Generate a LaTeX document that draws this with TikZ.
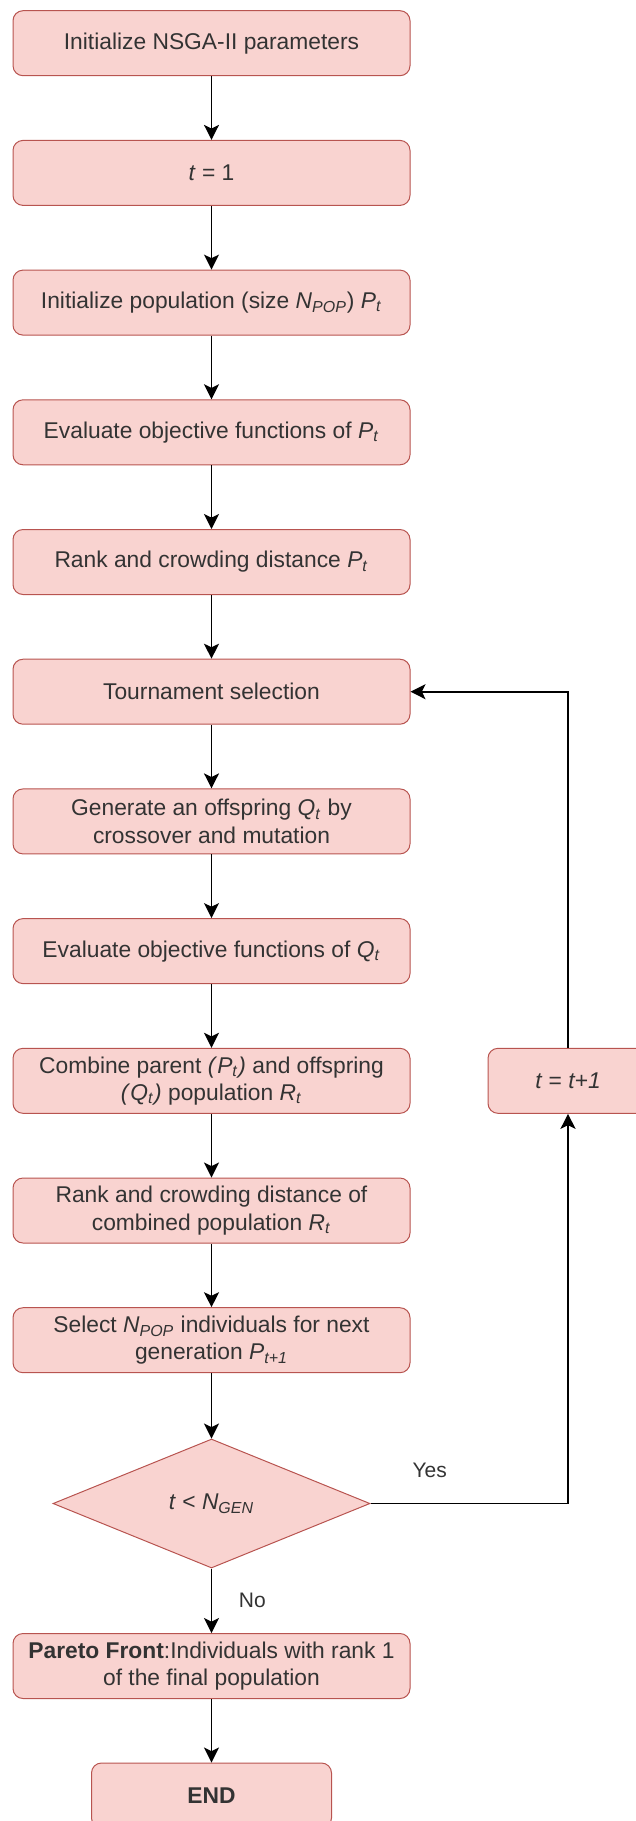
\documentclass[tikz,border=0pt]{standalone}
\usepackage{fontspec}
\setmainfont{Liberation Sans}
\usepackage{xcolor}
\usepackage{tikz}
\usetikzlibrary{positioning,shapes.geometric,arrows.meta}
\definecolor{boxFill}{HTML}{F9D3D0}
\definecolor{boxLine}{HTML}{B85450}
\definecolor{txtGray}{HTML}{333333}
\newdimen\nodeDist
\nodeDist=64.85pt
\newcommand{\vr}[2]{\textit{#1}\textsubscript{\textit{#2}}}

\begin{document}
\begin{tikzpicture}[
    block/.style={%
      draw=boxLine,
      fill=boxFill,
      rectangle,
      rounded corners=5pt,
      line width=0.5pt,
      minimum width=198.5pt,
      minimum height=32.5pt,
      inner sep=1pt,
      align=center,
      text=txtGray,
      font=\fontsize{11.4}{13.6}\selectfont,
    },
    decision/.style={%
      draw=boxLine,
      fill=boxFill,
      diamond,
      line width=0.5pt,
      minimum width=158.5pt,
      minimum height=64.5pt,
      inner sep=0pt,
      text=txtGray,
      font=\fontsize{11.4}{13.6}\selectfont,
    },
    line/.style={%
      draw,
      line width=0.8pt,
      -{Stealth[length=7.5pt,width=7.5pt,inset=1.8pt]},
    },
    lbl/.style={%
      text=txtGray,
      font=\fontsize{10.5}{12}\selectfont,
    },
  ]

    \useasboundingbox (0,0) rectangle (318pt,-910.5pt);

    \node [block] (A) at (105.75pt,-21.6pt) {Initialize NSGA-II parameters};
    \path (A) ++(-90:\nodeDist) node [block] (B) {\textit{t} = 1};
    \path (B) ++(-90:\nodeDist) node [block] (C) {Initialize population (size \vr{N}{POP}) \vr{P}{t}};
    \path (C) ++(-90:\nodeDist) node [block] (D) {Evaluate objective functions of \vr{P}{t}};
    \path (D) ++(-90:\nodeDist) node [block] (E) {Rank and crowding distance \vr{P}{t}};
    \path (E) ++(-90:\nodeDist) node [block] (F) {Tournament selection};
    \path (F) ++(-90:\nodeDist) node [block] (G) {Generate an offspring \vr{Q}{t} by\\crossover and mutation};
    \path (G) ++(-90:\nodeDist) node [block] (H) {Evaluate objective functions of \vr{Q}{t}};
    \path (H) ++(-90:\nodeDist) node [block] (I) {Combine parent \textit{(}\vr{P}{t}\textit{)} and offspring\\\textit{(}\vr{Q}{t}\textit{)} population \vr{R}{t}};
    \path (I) ++(-90:\nodeDist) node [block] (J) {Rank and crowding distance of\\combined population \vr{R}{t}};
    \path (J) ++(-90:\nodeDist) node [block] (K) {Select \vr{N}{POP} individuals for next\\generation \vr{P}{t+1}};
    \path (K) ++(-90:81.65pt) node [decision] (L) {\textit{t} < \vr{N}{GEN}};
    \path (L) ++(-90:81.25pt) node [block] (M) {\textbf{Pareto Front}:Individuals with rank 1\\of the final population};
    \path (M) ++(-90:64.75pt) node [block, minimum width=120pt] (N) {\textbf{END}};
    \path (I) ++(0:178.25pt) node [block, minimum width=80pt] (O) {\textit{t} = \textit{t+1}};

    \draw [line] (A) -- (B);
    \draw [line] (B) -- (C);
    \draw [line] (C) -- (D);
    \draw [line] (D) -- (E);
    \draw [line] (E) -- (F);
    \draw [line] (F) -- (G);
    \draw [line] (G) -- (H);
    \draw [line] (H) -- (I);
    \draw [line] (I) -- (J);
    \draw [line] (J) -- (K);
    \draw [line] (K) -- (L);
    \draw [line] (L) -- (M) node [lbl, right=10pt, pos=0.5] {No};
    \draw [line] (M) -- (N);
    \draw [line] (L.east) -| node [lbl, above=9pt, pos=0.15] {Yes} (O.south);
    \draw [line] (O.north) |- (F.east);
\end{tikzpicture}
\end{document}
